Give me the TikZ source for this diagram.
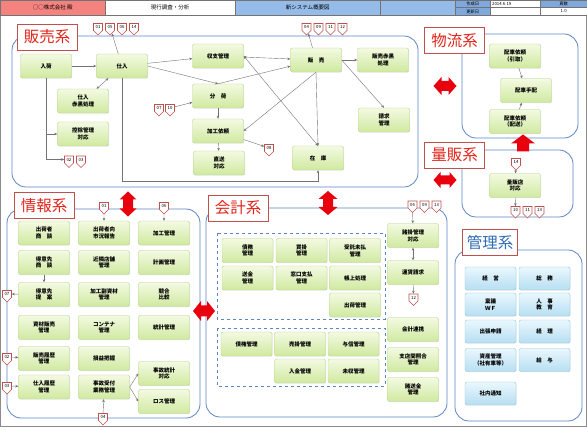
\documentclass[tikz,border=0pt]{standalone}
\usepackage{fontspec}
\setmainfont{Noto Sans CJK JP}
\usetikzlibrary{positioning,arrows.meta,shapes.symbols,shadows}

\definecolor{greentop}{HTML}{F3FAE2}
\definecolor{greenbot}{HTML}{D0E9A0}
\definecolor{greenline}{HTML}{B7D48A}
\definecolor{bluetop}{HTML}{EAF7FD}
\definecolor{bluebot}{HTML}{B6DFF2}
\definecolor{blueline}{HTML}{92C8DE}
\definecolor{sysblue}{HTML}{5B85C3}
\definecolor{labred}{HTML}{C0504D}
\definecolor{labtext}{HTML}{E2231A}
\definecolor{kanritext}{HTML}{2F6CB3}
\definecolor{headred}{HTML}{F4837F}
\definecolor{headblue}{HTML}{95BBE8}
\definecolor{headblue2}{HTML}{7FA8DC}
\definecolor{bigred}{HTML}{E8000F}

\tikzset{
>={Stealth[length=3pt,width=2.6pt]},
every node/.style={font=\bfseries\fontsize{5.5}{6.8}\selectfont},
func/.style={rectangle, rounded corners=2pt, draw=greenline, top color=greentop, bottom color=greenbot,
  minimum width=51pt, minimum height=24pt, align=center, inner sep=1pt,
  drop shadow={opacity=0.18, shadow xshift=0.7pt, shadow yshift=-0.7pt}},
kanri/.style={func, draw=blueline, top color=bluetop, bottom color=bluebot, minimum height=23pt},
tag/.style={signal, signal to=south, draw=labred, fill=white, line width=0.6pt, inner sep=0.6pt,
  minimum width=9pt, minimum height=10pt, font=\fontsize{4.3}{5}\selectfont},
sysbox/.style={draw=sysblue, line width=0.8pt, rounded corners=14pt},
grpbox/.style={draw=sysblue, dashed, line width=0.6pt},
syslabel/.style={draw=labred, fill=white, line width=0.8pt, text=labtext,
  font=\fontsize{15.5}{16}\selectfont, minimum width=60pt, minimum height=26pt, inner sep=1pt},
link/.style={->, draw=black!55, line width=0.4pt},
twin/.style={link, <->},
headcell/.style={draw=black!55, line width=0.4pt, anchor=north west, inner sep=0pt,
  font=\fontsize{5.5}{6}\selectfont},
smallcell/.style={headcell, minimum height=7.5pt, font=\fontsize{4.3}{5}\selectfont},
% #1 half length, #2 head half width, #3 shaft half width, #4 head length
pics/redtwin/.style n args={4}{code={
  \fill[bigred] (-#1,0) -- ({-#1+#4},-#2) -- ({-#1+#4},-#3) -- ({#1-#4},-#3) -- ({#1-#4},-#2)
    -- (#1,0) -- ({#1-#4},#2) -- ({#1-#4},#3) -- ({-#1+#4},#3) -- ({-#1+#4},#2) -- cycle;}},
pics/redup/.style={code={
  \fill[bigred] (0,-8.5) -- (12,0.5) -- (6,0.5) -- (6,8.5) -- (-6,8.5) -- (-6,0.5) -- (-12,0.5) -- cycle;}},
}

\begin{document}
\begin{tikzpicture}[x=1pt,y=-1pt]
\useasboundingbox (0,0) rectangle (587,430);
\draw[black!45, line width=0.8pt] (0.4,0.4) rectangle (586.6,426);

% header
\node[headcell, fill=headred, minimum width=105pt, minimum height=15pt] (client) at (0,0) {○○株式会社 殿};
\node[headcell, fill=white, minimum width=130pt, minimum height=15pt] (genko) at (105,0) {現行調査・分析};
\node[headcell, fill=headblue, minimum width=145pt, minimum height=15pt] (shinsys) at (235,0) {新システム概要図};
\draw[black!55, line width=0.4pt, fill=headblue] (380,0) rectangle (455,15);
\node[smallcell, fill=headblue2, minimum width=35pt] (sakusei) at (455,0) {作成日};
\node[smallcell, fill=white, minimum width=50pt, text width=46pt, align=left] (sakuseibi) at (490,0) {2014.6.19};
\node[smallcell, fill=headblue2, minimum width=47pt] (peji) at (540,0) {頁数};
\node[smallcell, fill=headblue2, minimum width=35pt] (koshin) at (455,7.5) {更新日};
\node[smallcell, fill=white, minimum width=50pt] (koshinbi) at (490,7.5) {};
\node[smallcell, fill=white, minimum width=47pt] (pejisu) at (540,7.5) {1.0};

% 販売系
\draw[sysbox] (12,36) rectangle (418,187);
\node[syslabel] (hanbaikei) at (47,37) {販売系};

\node[func] (nyuka) at (46,66) {入荷};
\node[func] (shiire) at (122,66) {仕入};
\node[func] (shiireaka) at (83,101) {仕入\\赤黒処理};
\node[func] (kojo) at (83,134) {控除管理\\対応};
\node[func] (shushi) at (218,56) {収支管理};
\node[func] (bunka) at (218,96) {分　荷};
\node[func] (kakoirai) at (218,131) {加工依頼};
\node[func] (chokuso) at (219,163) {直送\\対応};
\node[func] (hanbai) at (316,60) {販　売};
\node[func] (hanbaiaka) at (383,60) {販売赤黒\\処理};
\node[func] (seikyu) at (384,120) {請求\\管理};
\node[func] (zaiko) at (318,158) {在　庫};

\foreach \n [count=\i] in {01,05,06,14}
  \node[tag] (ts\i) at (86+12*\i,27) {\n};
\foreach \n [count=\i] in {04,09,11,12}
  \node[tag] (th\i) at (294.5+12*\i,27) {\n};
\foreach \n [count=\i] in {02,03}
  \node[tag] (tn\i) at (57+12*\i,159.5) {\n};
\foreach \n [count=\i] in {07,10}
  \node[tag] (tb\i) at (148+11*\i,108) {\n};
\node[tag] (tk08) at (269,148) {08};

\draw[link] (nyuka) -- (shiire);
\draw[twin] (shiire) -- (shiireaka);
\draw[link] (shiire) -- (ts2);
\draw[link] (nyuka.south) |- (kojo.west);
\draw[link] (nyuka.south) |- (tn1.west);
\draw[link] (shiire) -- (shushi);
\draw[link] (shiire.east) -- (bunka.north);
\draw[link] (bunka.north) -- (hanbai);
\draw[link] (tb2) -- (bunka);
\draw[link] (bunka) -- (kakoirai);
\draw[link] (kakoirai) -- (chokuso);
\draw[link] (kakoirai) -- (tk08);
\draw[link] (shiire.south) -- ++(0,103) -| (zaiko.south);
\draw[twin] (shushi) -- (hanbai);
\draw[twin] (shushi.east) -- (zaiko.north);
\draw[link] (hanbai.south) -- (kakoirai.east);
\draw[link] (hanbai.south) -- (zaiko.north);
\draw[link] (hanbai) -- (hanbaiaka);
\draw[link] (hanbai.east) -- (seikyu.north);
\draw[link] (hanbai) -- (th1);

% 物流系
\draw[sysbox] (462,34) rectangle (578,138);
\node[syslabel] (butsuryukei) at (454.5,40.5) {物流系};
\node[func] (hikitori) at (515,56) {配車依頼\\（引取）};
\node[func] (tehai) at (526,90.5) {配車手配};
\node[func] (haiso) at (515,121.5) {配車依頼\\（配送）};
\draw[link] (hikitori) -- (tehai);
\draw[link] (haiso) -- (tehai);

% 量販系
\draw[sysbox] (462,150) rectangle (573,217);
\node[syslabel] (ryohankei) at (454.5,155) {量販系};
\node[tag] (tr14) at (516,162) {14};
\node[func] (ryohanten) at (515,185.5) {量販店\\対応};
\foreach \n [count=\i] in {10,11,13}
  \node[tag] (tr\i) at (503.5+12*\i,210) {\n};
\draw[link] (tr14) -- (ryohanten);
\draw[link] (ryohanten) -- (tr1);

% 情報系
\draw[sysbox] (7,209) rectangle (200,418);
\node[syslabel] (johokei) at (44,205.5) {情報系};

\node[func] (shukkashodan) at (44,233) {出荷者\\商　談};
\node[func] (tokuishodan) at (44,262.5) {得意先\\商　談};
\node[func] (tokuiteian) at (44,294.5) {得意先\\提　案};
\node[func] (shizaihanbai) at (44,327.5) {資材販売\\管理};
\node[func] (hanbairireki) at (44,358.5) {販売履歴\\管理};
\node[func] (shiirerireki) at (44,387) {仕入履歴\\管理};
\node[func] (shikyo) at (104,233) {出荷者向\\市況報告};
\node[func] (kinrin) at (104,262.5) {近隣店舗\\管理};
\node[func] (fukushizai) at (104,294.5) {加工副資材\\管理};
\node[func] (container) at (104,327.5) {コンテナ\\管理};
\node[func] (soneki) at (104,358.5) {損益把握};
\node[func] (jikouke) at (104,387) {事故受付\\業務管理};
\node[func] (kakokanri) at (164,233) {加工管理};
\node[func] (keikaku) at (164,262.5) {計画管理};
\node[func] (kyogo) at (164,294.5) {競合\\比較};
\node[func] (tokei) at (164,327.5) {統計管理};
\node[func] (jikotokei) at (164,373.5) {事故統計\\対応};
\node[func] (loss) at (164,401.5) {ロス管理};

\node[tag] (ti01) at (104,206) {01};
\node[tag] (ti06) at (164,206) {06};
\node[tag] (ti07) at (7,294) {07};
\node[tag] (ti02) at (7,357) {02};
\node[tag] (ti03) at (7,386) {03};
\node[tag] (ti04) at (103,417) {04};

\draw[link] (ti01) -- (shikyo);
\draw[link] (ti06) -- (kakokanri);
\draw[link] (tokuishodan) -- (tokuiteian);
\draw[link] (tokuiteian) -- (ti07);
\draw[link] (ti02) -- (hanbairireki);
\draw[link] (ti03) -- (shiirerireki);
\draw[link] (ti04) -- (jikouke);
\draw[link] (jikouke.east) -- (jikotokei.west);
\draw[link] (jikouke.east) -- (loss.west);

% 会計系
\draw[sysbox] (206,208) rectangle (447,417);
\node[syslabel] (kaikeikei) at (238,208) {会計系};
\draw[grpbox] (217,233) rectangle (385,319);
\draw[grpbox] (217,328) rectangle (385,386);

\node[func] (saimu) at (247.5,250.5) {債務\\管理};
\node[func] (kaikake) at (301.5,250.5) {買掛\\管理};
\node[func] (jutaku) at (355,250.5) {受託未払\\管理};
\node[func] (sokin) at (247.5,278) {送金\\管理};
\node[func] (madoguchi) at (301.5,278) {窓口支払\\管理};
\node[func] (chojo) at (355,278) {帳上処理};
\node[func] (shukkakanri) at (355,305) {出荷管理};

\node[func] (saiken) at (246.5,344) {債権管理};
\node[func] (urikake) at (300,344) {売掛管理};
\node[func] (yoshin) at (353.5,344) {与信管理};
\node[func] (nyukin) at (300,371) {入金管理};
\node[func] (mishu) at (353.5,371) {未収管理};

\node[func] (shogakari) at (413,235.5) {諸掛管理\\対応};
\node[func] (unchin) at (413,272.5) {運賃請求};
\node[func] (renkei) at (413,329.5) {会計連携};
\node[func] (shoten) at (413,359.5) {支店間照合\\管理};
\node[func] (shosokin) at (413,389.5) {諸送金\\管理};

\foreach \n [count=\i] in {06,09,13}
  \node[tag] (tk\i) at (400.5+12*\i,204.5) {\n};
\node[tag] (tk12) at (413.5,297.5) {12};
\draw[link] (tk1) -- (shogakari);
\draw[twin] (shogakari) -- (unchin);
\draw[link] (unchin) -- (tk12);

% 管理系
\draw[sysbox] (455,250) rectangle (582,421);
\node[syslabel, text=kanritext, minimum width=55pt] (kanrikei) at (490,242.5) {管理系};

\node[kanri] (keiei) at (490.5,278.5) {経　営};
\node[kanri] (somu) at (544.5,278.5) {総　務};
\node[kanri] (ringi) at (490.5,304.5) {稟議\\ＷＦ};
\node[kanri] (jinji) at (544.5,304.5) {人　事\\教　育};
\node[kanri] (shutcho) at (490.5,331.5) {出張申請};
\node[kanri] (keiri) at (544.5,331.5) {経　理};
\node[kanri] (shisan) at (490.5,360) {資産管理\\（社有車等）};
\node[kanri] (kyuyo) at (544.5,360) {給　与};
\node[kanri] (tsuchi) at (490.5,393.5) {社内通知};

% big arrows
\pic[rotate=90] at (128,204) {redtwin={12.5}{8.5}{5}{8}};
\pic[rotate=90] at (328,203) {redtwin={12}{9.5}{5}{8}};
\pic at (445,86) {redtwin={11.5}{9}{5}{8}};
\pic at (445,180) {redtwin={11.5}{8}{4.5}{7}};
\pic at (204,311) {redtwin={11}{10}{5.5}{8}};
\pic at (523,143) {redup};

\end{tikzpicture}
\end{document}
